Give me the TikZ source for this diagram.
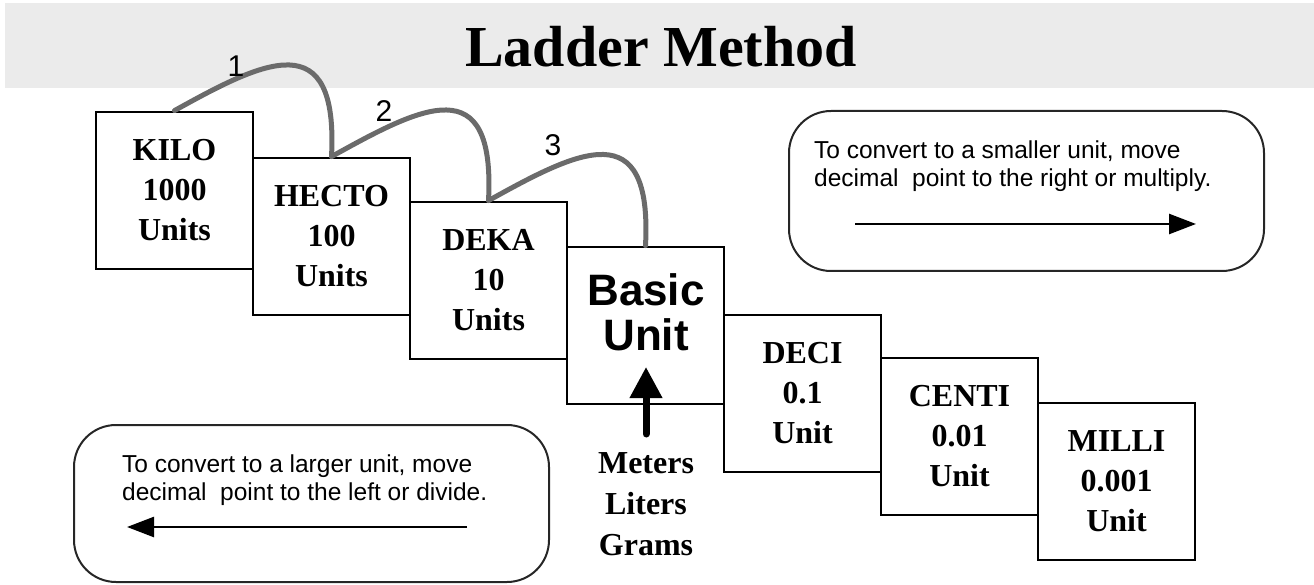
\documentclass[tikz,border=0pt]{standalone}
\usepackage{fontspec}
\setmainfont{Liberation Serif}
\newfontfamily\arialfont{Liberation Sans}
\usetikzlibrary{arrows.meta}

\begin{document}
\begin{tikzpicture}[x=1pt,y=-1pt,
  unitbox/.style={draw, line width=2.8pt, minimum width=157pt, minimum height=157pt,
    inner sep=0pt, align=center, font=\bfseries\fontsize{32}{40}\selectfont},
  hopline/.style={draw=black!58, line width=5pt, line cap=round},
  hopnum/.style={font=\arialfont\fontsize{30}{30}\selectfont},
  notebox/.style={draw=black!85, line width=2pt, rounded corners=42pt},
  notetext/.style={anchor=north west, inner sep=0pt, align=left,
    font=\arialfont\fontsize{24.5}{28}\selectfont},
  notearrow/.style={line width=2.5pt, -{Triangle[length=27pt,width=20pt]}}]
\useasboundingbox (0,0) rectangle (1314,585);

% title band
\fill[black!8] (5,3) rectangle (1314,88);
\node[anchor=base, font=\bfseries\fontsize{58}{58}\selectfont] (title) at (661,67) {Ladder Method};

% the steps of the ladder
\node[unitbox] (kilo)  at (174.5,190.5) {KILO\\1000\\Units};
\node[unitbox] (hecto) at (331.5,236.5) {HECTO\\100\\Units};
\node[unitbox] (deka)  at (488.5,280.5) {DEKA\\10\\Units};
\node[unitbox] (basic) at (645.5,325.5) {};
\node[unitbox] (deci)  at (802.5,393.5) {DECI\\0.1\\Unit};
\node[unitbox] (centi) at (959.5,436.5) {CENTI\\0.01\\Unit};
\node[unitbox] (milli) at (1116.5,481.5) {MILLI\\0.001\\Unit};

\node[anchor=north, inner sep=0pt, align=center, font=\arialfont\bfseries\fontsize{44}{45}\selectfont]
  (basiclbl) at (646,273) {Basic\\Unit};
\node[anchor=north, inner sep=0pt, align=center, font=\bfseries\fontsize{32}{41}\selectfont]
  (bases) at (646,452) {Meters\\Liters\\Grams};
\coordinate (basetip) at (646,367);
\draw[line width=7pt, line cap=round, -{Triangle[length=31pt,width=31pt]}, shorten <=18pt]
  (bases.north) -- (basetip);

% jumps
\draw[hopline] (kilo.north) .. controls +(90,-50) and +(7,-133) .. (hecto.north);
\draw[hopline] (hecto.north) .. controls +(90,-50) and +(7,-133) .. (deka.north);
\draw[hopline] (deka.north) .. controls +(90,-50) and +(7,-133) .. (basic.north);
\node[hopnum] (hop1) at (236,66) {1};
\node[hopnum] (hop2) at (384,111) {2};
\node[hopnum] (hop3) at (553,145) {3};

% notes
\draw[notebox] (789,111) rectangle (1264,271);
\node[notetext] (smallnote) at (814,141) {To convert to a smaller unit, move\\decimal\ \ point to the right or multiply.};
\coordinate (smallfrom) at (855,224);
\coordinate (smallto) at (1196,224);
\draw[notearrow] (smallfrom) -- (smallto);

\draw[notebox] (74,425) rectangle (549,582);
\node[notetext] (largenote) at (122,455) {To convert to a larger unit, move\\decimal\ \ point to the left or divide.};
\coordinate (largefrom) at (467,527);
\coordinate (largeto) at (127,527);
\draw[notearrow] (largefrom) -- (largeto);
\end{tikzpicture}
\end{document}
